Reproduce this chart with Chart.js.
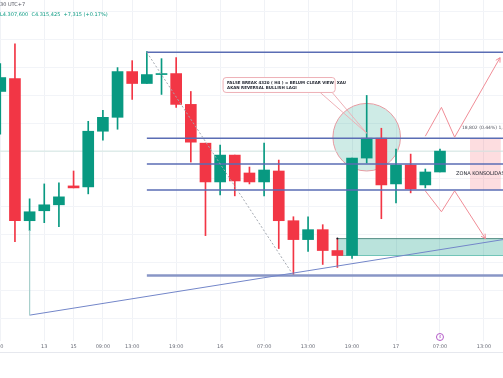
<!DOCTYPE html>
<html>
<head>
<meta charset="utf-8">
<script src="https://cdn.jsdelivr.net/npm/chart.js@4.4.1/dist/chart.umd.min.js"></script>
<style>
  html, body { margin: 0; padding: 0; background: #ffffff; }
  canvas { display: block; }
</style>
</head>
<body>
<canvas id="chart" width="503" height="378"></canvas>
<script>
  // Candles (H4 XAUUSD)
  const opens  = [4348.2, 4356.0, 4270.2, 4276.2, 4279.8, 4291.2, 4290.6, 4324.2, 4332.6, 4360.2, 4353.0, 4358.4, 4359.0, 4340.4, 4317.0, 4293.6, 4309.8, 4299.0, 4293.6, 4300.2, 4270.2, 4258.8, 4264.8, 4252.2, 4249.2, 4308.0, 4320.0, 4292.4, 4303.8, 4291.8, 4299.6];
  const highs  = [4365.0, 4377.0, 4283.4, 4292.4, 4293.0, 4300.2, 4330.2, 4336.8, 4362.6, 4366.8, 4372.2, 4368.0, 4368.6, 4348.2, 4317.0, 4315.8, 4309.8, 4302.6, 4317.0, 4306.8, 4272.6, 4272.6, 4267.8, 4259.4, 4308.0, 4345.8, 4326.0, 4313.4, 4310.4, 4301.4, 4313.4];
  const lows   = [4322.4, 4257.6, 4264.2, 4269.0, 4266.6, 4290.0, 4286.4, 4318.8, 4325.4, 4343.4, 4353.0, 4346.4, 4338.6, 4305.6, 4261.2, 4285.8, 4285.2, 4292.4, 4285.2, 4253.4, 4237.2, 4251.6, 4243.8, 4242.0, 4247.4, 4305.0, 4271.4, 4281.0, 4287.0, 4290.0, 4299.6];
  const closes = [4356.6, 4270.2, 4275.6, 4279.8, 4284.6, 4290.0, 4324.2, 4332.6, 4360.2, 4353.0, 4358.4, 4359.0, 4340.4, 4317.6, 4293.6, 4309.8, 4294.2, 4293.6, 4300.8, 4270.2, 4258.8, 4264.8, 4252.2, 4249.2, 4308.0, 4320.0, 4291.8, 4303.8, 4289.4, 4299.6, 4312.2];

  // Time axis
  const xTickPos    = [0, 3, 5, 7, 9, 12, 15, 18, 21, 24, 27, 30, 33];
  const xTickLabels = ['00', '13', '15', '09:00', '13:00', '19:00', '16', '07:00', '13:00', '19:00', '17', '07:00', '13:00'];
  const gridPrices  = [4396.2, 4379.4, 4362.6, 4345.8, 4329.0, 4312.2, 4295.4, 4278.6, 4261.8, 4245.0, 4228.2, 4211.4];

  // Drawings
  const levels      = [4371.8, 4320.0, 4304.4, 4288.8, 4237.2];
  const levelFrom   = 10;
  const rightEdge   = 34.3;
  const lastPrice   = 4312.2;
  const trendLine   = [{ x: 2, y: 4213.2 }, { x: rightEdge, y: 4258.8 }];
  const anchorLine  = [{ x: 2, y: 4264.2 }, { x: 2, y: 4213.2 }];
  const dottedLine  = [{ x: 10, y: 4371.8 }, { x: 20, y: 4237.2 }];
  const bullPath    = [{ x: 29, y: 4321.2 }, { x: 30.1, y: 4338.6 }, { x: 31, y: 4320.6 }, { x: 34.1, y: 4368.6 }];
  const bearPath    = [{ x: 29, y: 4288.2 }, { x: 30.1, y: 4275.6 }, { x: 31, y: 4288.2 }, { x: 33.1, y: 4259.4 }];
  const demandZone  = [23, rightEdge, 4259.4, 4249.2];   // x0, x1, top, bottom
  const pinkZone    = [32.05, 34.15, 4320.0, 4288.8];
  const circle      = [25, 4320.6, 20.4];                // x, price, radius in price units
  const callout     = [15.2, 22.85, 4356.6, 4347.6];
  const calloutTip  = [25, 4323.0];
  const calloutText = ['FALSE BREAK 4320 ( H4 ) = BELUM CLEAR VIEW  XAU', 'AKAN REVERSAL BULLISH LAGI'];

  const UP = '#089981';
  const DOWN = '#f23645';
  const candleColors = opens.map((o, i) => closes[i] >= o ? UP : DOWN);

  const idx = opens.map((_, i) => i);

  const lineDs = (data, color, width, extra) => Object.assign({
    type: 'line',
    data: data,
    borderColor: color,
    borderWidth: width,
    pointRadius: 0,
    fill: false,
    tension: 0,
    order: 1
  }, extra || {});

  const datasets = [
    lineDs([{ x: -0.02, y: lastPrice }, { x: rightEdge, y: lastPrice }], '#d3e6e2', 1, { order: 5 }),
    {
      type: 'bar',
      data: idx.map(i => ({ x: i, y: [lows[i], highs[i]] })),
      backgroundColor: candleColors,
      barThickness: 1,
      grouped: false,
      order: 4
    },
    {
      type: 'bar',
      data: idx.map(i => ({ x: i, y: [opens[i], closes[i]] })),
      backgroundColor: candleColors,
      barThickness: 11,
      minBarLength: 1,
      grouped: false,
      order: 3
    },
    lineDs(anchorLine, '#a9d0cd', 1),
    lineDs(trendLine, '#7386c9', 1),
    lineDs(dottedLine, '#a3a8b0', 1, { borderDash: [2, 2] }),
    lineDs(bullPath, '#f08d97', 1),
    lineDs(bearPath, '#f08d97', 1)
  ];
  levels.forEach((lv, k) => {
    const last = k === levels.length - 1;
    datasets.push(lineDs([{ x: levelFrom, y: lv }, { x: rightEdge, y: lv }], last ? '#8896c6' : '#5a6db4', last ? 2.5 : 1.5));
  });

  function arrowHead(ctx, path, xs, ys) {
    const a = path[path.length - 2], b = path[path.length - 1];
    const x1 = xs.getPixelForValue(a.x), y1 = ys.getPixelForValue(a.y);
    const x2 = xs.getPixelForValue(b.x), y2 = ys.getPixelForValue(b.y);
    const ang = Math.atan2(y2 - y1, x2 - x1);
    ctx.beginPath();
    ctx.moveTo(x2 - 5 * Math.cos(ang - 0.5), y2 - 5 * Math.sin(ang - 0.5));
    ctx.lineTo(x2, y2);
    ctx.lineTo(x2 - 5 * Math.cos(ang + 0.5), y2 - 5 * Math.sin(ang + 0.5));
    ctx.stroke();
  }

  const drawings = {
    id: 'drawings',
    beforeDatasetsDraw(chart) {
      const { ctx, scales: { x, y } } = chart;
      ctx.save();
      // demand zone
      const dx0 = x.getPixelForValue(demandZone[0]), dx1 = x.getPixelForValue(demandZone[1]);
      const dy0 = y.getPixelForValue(demandZone[2]), dy1 = y.getPixelForValue(demandZone[3]);
      ctx.fillStyle = 'rgba(8,153,129,0.28)';
      ctx.fillRect(dx0, dy0, dx1 - dx0, dy1 - dy0);
      ctx.strokeStyle = 'rgba(40,110,100,0.75)';
      ctx.lineWidth = 1;
      ctx.beginPath();
      ctx.moveTo(dx0, dy0); ctx.lineTo(dx1, dy0);
      ctx.stroke();
      ctx.strokeStyle = 'rgba(8,153,129,0.5)';
      ctx.beginPath();
      ctx.moveTo(dx0, dy1); ctx.lineTo(dx1, dy1);
      ctx.stroke();
      // pink projection zone
      const px0 = x.getPixelForValue(pinkZone[0]), px1 = x.getPixelForValue(pinkZone[1]);
      const py0 = y.getPixelForValue(pinkZone[2]), py1 = y.getPixelForValue(pinkZone[3]);
      ctx.fillStyle = 'rgba(242,54,69,0.17)';
      ctx.fillRect(px0, py0, px1 - px0, py1 - py0);
      // circle
      const cx = x.getPixelForValue(circle[0]), cy = y.getPixelForValue(circle[1]);
      const r = y.getPixelForValue(circle[1] - circle[2]) - cy;
      ctx.beginPath();
      ctx.arc(cx, cy, r, 0, Math.PI * 2);
      ctx.fillStyle = 'rgba(8,153,129,0.2)';
      ctx.fill();
      ctx.strokeStyle = '#e79aa1';
      ctx.stroke();
      ctx.restore();
    },
    afterDatasetsDraw(chart) {
      const { ctx, chartArea, scales: { x, y } } = chart;
      ctx.save();
      ctx.strokeStyle = '#f08d97';
      ctx.lineWidth = 1;
      arrowHead(ctx, bullPath, x, y);
      arrowHead(ctx, bearPath, x, y);

      // callout
      const bx0 = x.getPixelForValue(callout[0]), bx1 = x.getPixelForValue(callout[1]);
      const by0 = y.getPixelForValue(callout[2]), by1 = y.getPixelForValue(callout[3]);
      const tx = x.getPixelForValue(calloutTip[0]), ty = y.getPixelForValue(calloutTip[1]);
      ctx.strokeStyle = '#eeb0b6';
      ctx.beginPath();
      ctx.moveTo(bx1 - 15, by1); ctx.lineTo(tx, ty); ctx.lineTo(bx1 - 3, by1);
      ctx.stroke();
      ctx.beginPath();
      ctx.roundRect(bx0, by0, bx1 - bx0, by1 - by0, 3);
      ctx.fillStyle = '#ffffff';
      ctx.fill();
      ctx.stroke();
      ctx.fillStyle = '#1e222d';
      ctx.font = 'bold 4px "DejaVu Sans"';
      ctx.textBaseline = 'middle';
      ctx.fillText(calloutText[0], bx0 + 4, by0 + 5);
      ctx.fillText(calloutText[1], bx0 + 4, by0 + 10);

      // zone labels
      ctx.fillStyle = '#50535e';
      ctx.font = '4.5px "DejaVu Sans"';
      ctx.fillText('18,802 (0.44%) 1,880', x.getPixelForValue(31.5), y.getPixelForValue(4326.0));
      ctx.fillStyle = '#1e222d';
      ctx.font = '5px "DejaVu Sans"';
      ctx.fillText('ZONA KONSOLIDASI', x.getPixelForValue(31.1), y.getPixelForValue(4298.4));

      // demand zone anchor dot
      ctx.fillStyle = '#131722';
      ctx.beginPath();
      ctx.arc(x.getPixelForValue(demandZone[0]), y.getPixelForValue(demandZone[2]), 1, 0, Math.PI * 2);
      ctx.fill();

      // header legend
      ctx.font = '5px "DejaVu Sans"';
      ctx.fillStyle = '#50535e';
      ctx.fillText('30 UTC+7', 0, 5);
      ctx.fillStyle = UP;
      ctx.fillText('L4.307,600  C4.315,425  +7,315 (+0.17%)', 0, 15);

      // event marker on time axis
      const mx = x.getPixelForValue(30);
      ctx.strokeStyle = '#b45bc8';
      ctx.beginPath();
      ctx.arc(mx, chartArea.bottom - 4, 3.5, 0, Math.PI * 2);
      ctx.stroke();
      ctx.fillStyle = '#b45bc8';
      ctx.font = '4px "DejaVu Sans"';
      ctx.textAlign = 'center';
      ctx.fillText('4', mx, chartArea.bottom - 4);

      // time axis bottom rule
      ctx.strokeStyle = '#e6e8ee';
      ctx.beginPath();
      ctx.moveTo(0, chartArea.bottom + 11.5); ctx.lineTo(503, chartArea.bottom + 11.5);
      ctx.stroke();
      ctx.restore();
    }
  };

  new Chart(document.getElementById('chart'), {
    type: 'bar',
    data: { datasets },
    options: {
      responsive: false,
      animation: false,
      devicePixelRatio: 1,
      layout: { padding: { left: 0, right: 0, top: 0, bottom: 25 } },
      plugins: { legend: { display: false }, tooltip: { enabled: false } },
      scales: {
        x: {
          type: 'linear',
          offset: false,
          min: -0.02,
          max: rightEdge,
          afterBuildTicks: s => { s.ticks = xTickPos.map(v => ({ value: v })); },
          afterFit: s => { s.paddingLeft = 0; s.paddingRight = 0; },
          grid: { color: '#f0f2f6', drawTicks: false, offset: false },
          border: { display: false },
          ticks: {
            padding: 3,
            autoSkip: false,
            maxRotation: 0,
            color: '#6a6d78',
            font: { size: 5, family: 'DejaVu Sans' },
            callback: (v, i) => xTickLabels[i]
          }
        },
        y: {
          min: 4197.6,
          max: 4403.4,
          afterBuildTicks: s => { s.ticks = gridPrices.map(v => ({ value: v })); },
          afterFit: s => { s.width = 0; },
          grid: { color: '#f2f4f8', drawTicks: false },
          border: { display: false },
          ticks: { display: false }
        }
      }
    },
    plugins: [drawings]
  });
</script>
</body>
</html>
